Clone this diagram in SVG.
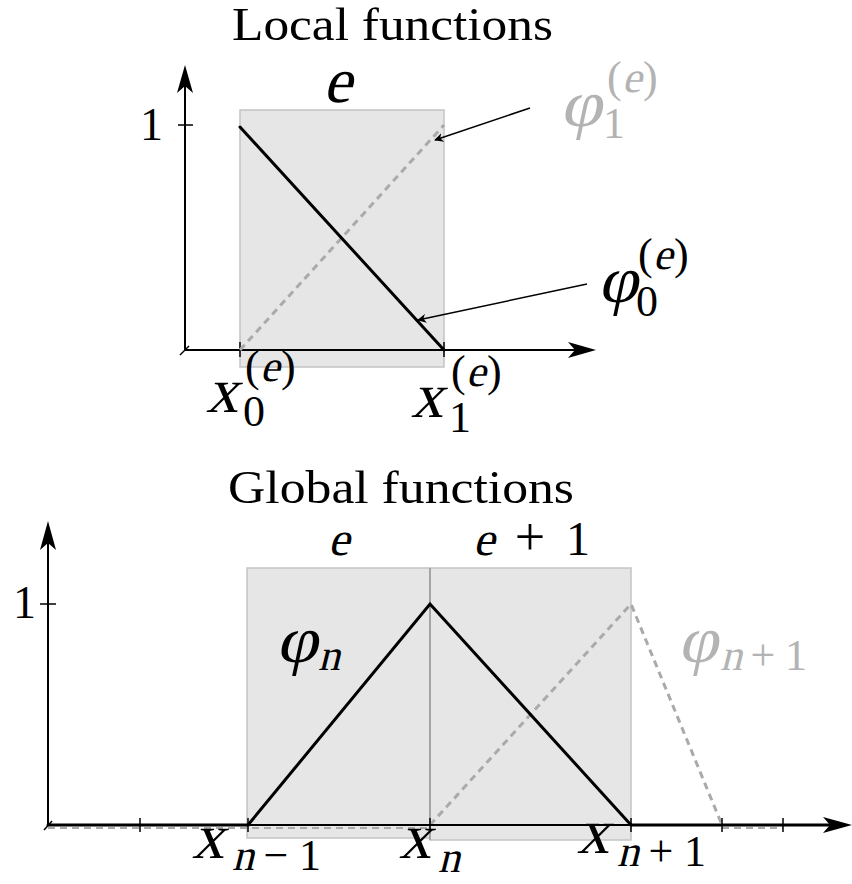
<svg xmlns="http://www.w3.org/2000/svg" width="852" height="884" viewBox="0 0 852 884">
<defs>
<style>
.t{font-family:"Liberation Serif","Times New Roman",serif;fill:#000}
.g{fill:#b3b3b3}
.ax{stroke:#000;stroke-width:2;fill:none}
.fn{stroke:#000;stroke-width:3;fill:none;stroke-linecap:round}
.dash{stroke:#aaaaaa;stroke-width:3;fill:none;stroke-dasharray:7 5}
.dashs{stroke:#aaaaaa;stroke-width:2;fill:none;stroke-dasharray:7 5}
.box{fill:#e6e6e6;stroke:#c4c4c4;stroke-width:1.5}
.ann{stroke:#000;stroke-width:1.5;fill:none}
.tk{stroke:#000;stroke-width:1.5}
</style>
<marker id="ah" viewBox="0 0 10 10" refX="9" refY="5" markerWidth="9" markerHeight="9" markerUnits="userSpaceOnUse" orient="auto">
<path d="M10,5 L0,0 L3,5 L0,10 Z" fill="#000"/>
</marker>
</defs>
<rect width="852" height="884" fill="#fff"/>

<!-- Top plot -->
<g id="local-title"><text class="t" x="232" y="40" font-size="46" textLength="321" lengthAdjust="spacingAndGlyphs">Local functions</text></g>
<g id="local-element"><rect class="box" x="240" y="110" width="204" height="257"/></g>
<g id="local-axes">
<line class="ax" x1="185" y1="350" x2="185" y2="85"/>
<path d="M185,65 L193,93 L185,86 L177,93 Z" fill="#000"/>
<line class="ax" x1="185" y1="350" x2="578" y2="350"/>
<path d="M596,350 L568,342 L575,350 L568,358 Z" fill="#000"/>
<line class="tk" x1="180" y1="355" x2="189" y2="346"/>
<line class="tk" x1="178" y1="125" x2="193" y2="125"/>
<line class="tk" x1="240" y1="342" x2="240" y2="357"/>
<line class="tk" x1="444" y1="342" x2="444" y2="357"/>
<text class="t" x="140" y="140" font-size="46">1</text>
</g>
<g id="local-phi1"><line class="dash" x1="240" y1="350" x2="444" y2="125"/></g>
<g id="local-phi0"><line class="fn" x1="240" y1="127" x2="444" y2="350"/></g>
<g id="local-labels">
<text class="t" transform="translate(323,102) skewX(-14)" font-size="64">e</text>
<!-- phi_1^(e) -->
<text class="t g" transform="translate(560,126) skewX(-12)" font-size="66" textLength="42" lengthAdjust="spacingAndGlyphs">φ</text>
<text class="t g" x="603" y="138" font-size="44">1</text>
<text class="t g" x="607" y="92" font-size="44">(</text>
<text class="t g" transform="translate(622,92) skewX(-14)" font-size="44">e</text>
<text class="t g" x="643" y="92" font-size="44">)</text>
<!-- phi_0^(e) -->
<text class="t" transform="translate(598,302) skewX(-12)" font-size="66" textLength="40" lengthAdjust="spacingAndGlyphs">φ</text>
<text class="t" x="636" y="316" font-size="44">0</text>
<text class="t" x="638" y="269" font-size="44">(</text>
<text class="t" transform="translate(653,269) skewX(-14)" font-size="44">e</text>
<text class="t" x="674" y="269" font-size="44">)</text>
<!-- x_0^(e) -->
<text class="t" transform="translate(206,412) skewX(-14)" font-size="64">x</text>
<text class="t" x="243" y="426" font-size="44">0</text>
<text class="t" x="245" y="381" font-size="44">(</text>
<text class="t" transform="translate(260,381) skewX(-14)" font-size="44">e</text>
<text class="t" x="281" y="381" font-size="44">)</text>
<!-- x_1^(e) -->
<text class="t" transform="translate(411,417) skewX(-14)" font-size="64">x</text>
<text class="t" x="449" y="432" font-size="44">1</text>
<text class="t" x="451" y="386" font-size="44">(</text>
<text class="t" transform="translate(466,386) skewX(-14)" font-size="44">e</text>
<text class="t" x="487" y="386" font-size="44">)</text>
</g>
<g id="local-connectors">
<line class="ann" x1="530" y1="108" x2="435" y2="140" marker-end="url(#ah)"/>
<line class="ann" x1="587" y1="284" x2="418" y2="320" marker-end="url(#ah)"/>
</g>

<!-- Bottom plot -->
<g id="global-title"><text class="t" x="228" y="503" font-size="46" textLength="346" lengthAdjust="spacingAndGlyphs">Global functions</text></g>
<g id="global-elements">
<rect class="box" x="247" y="568" width="183" height="270"/>
<rect class="box" x="430" y="568" width="201" height="272"/>
<line x1="430" y1="568" x2="430" y2="840" stroke="#808080" stroke-width="1"/>
</g>
<g id="global-phin1">
<polyline class="dash" points="430,825 631,604 722,825"/>
<line class="dashs" x1="48" y1="828" x2="430" y2="828"/>
<line class="dashs" x1="722" y1="828" x2="783" y2="828"/>
</g>
<g id="global-axes">
<line class="ax" x1="48" y1="825" x2="48" y2="540"/>
<path d="M48,521 L56,550 L48,543 L40,550 Z" fill="#000"/>
<line class="ax" x1="48" y1="825" x2="834" y2="825"/>
<path d="M852,825 L823,817 L830,825 L823,833 Z" fill="#000"/>
<line class="tk" x1="44" y1="830" x2="52" y2="821"/>
<line class="tk" x1="40" y1="604" x2="56" y2="604"/>
<line class="tk" x1="140" y1="818" x2="140" y2="832"/>
<line class="tk" x1="248" y1="818" x2="248" y2="832"/>
<line class="tk" x1="430" y1="818" x2="430" y2="832"/>
<line class="tk" x1="631" y1="818" x2="631" y2="832"/>
<line class="tk" x1="722" y1="818" x2="722" y2="832"/>
<line class="tk" x1="783" y1="818" x2="783" y2="832"/>
<text class="t" x="13" y="618" font-size="46">1</text>
</g>
<g id="global-phin">
<polyline class="fn" points="248,825 430,604 631,825"/>
<line class="fn" x1="48" y1="825" x2="248" y2="825"/>
<line class="fn" x1="631" y1="825" x2="834" y2="825"/>
</g>
<g id="global-labels">
<text class="t" transform="translate(328,555) skewX(-14)" font-size="48">e</text>
<text class="t" transform="translate(473,555) skewX(-14)" font-size="48">e</text>
<text class="t" x="530" y="555" font-size="54" text-anchor="middle">+</text>
<text class="t" x="566" y="555" font-size="48">1</text>
<!-- phi_n -->
<text class="t" transform="translate(276,662) skewX(-12)" font-size="66" textLength="42" lengthAdjust="spacingAndGlyphs">φ</text>
<text class="t" transform="translate(318,670) skewX(-14)" font-size="44">n</text>
<!-- phi_{n+1} -->
<text class="t g" transform="translate(678,662) skewX(-12)" font-size="66" textLength="40" lengthAdjust="spacingAndGlyphs">φ</text>
<text class="t g" transform="translate(720,670) skewX(-14)" font-size="44">n</text>
<text class="t g" x="763" y="670" font-size="44" text-anchor="middle">+</text>
<text class="t g" x="785" y="670" font-size="44">1</text>
<!-- x_{n-1} -->
<text class="t" transform="translate(192,858) skewX(-14)" font-size="64">x</text>
<text class="t" transform="translate(232,870) skewX(-14)" font-size="44">n</text>
<text class="t" x="276" y="870" font-size="44" text-anchor="middle">−</text>
<text class="t" x="299" y="870" font-size="44">1</text>
<!-- x_n -->
<text class="t" transform="translate(399,858) skewX(-14)" font-size="64">x</text>
<text class="t" transform="translate(438,872) skewX(-14)" font-size="44">n</text>
<!-- x_{n+1} -->
<text class="t" transform="translate(577,853) skewX(-14)" font-size="64">x</text>
<text class="t" transform="translate(617,866) skewX(-14)" font-size="44">n</text>
<text class="t" x="661" y="866" font-size="44" text-anchor="middle">+</text>
<text class="t" x="684" y="866" font-size="44">1</text>
</g>
</svg>
